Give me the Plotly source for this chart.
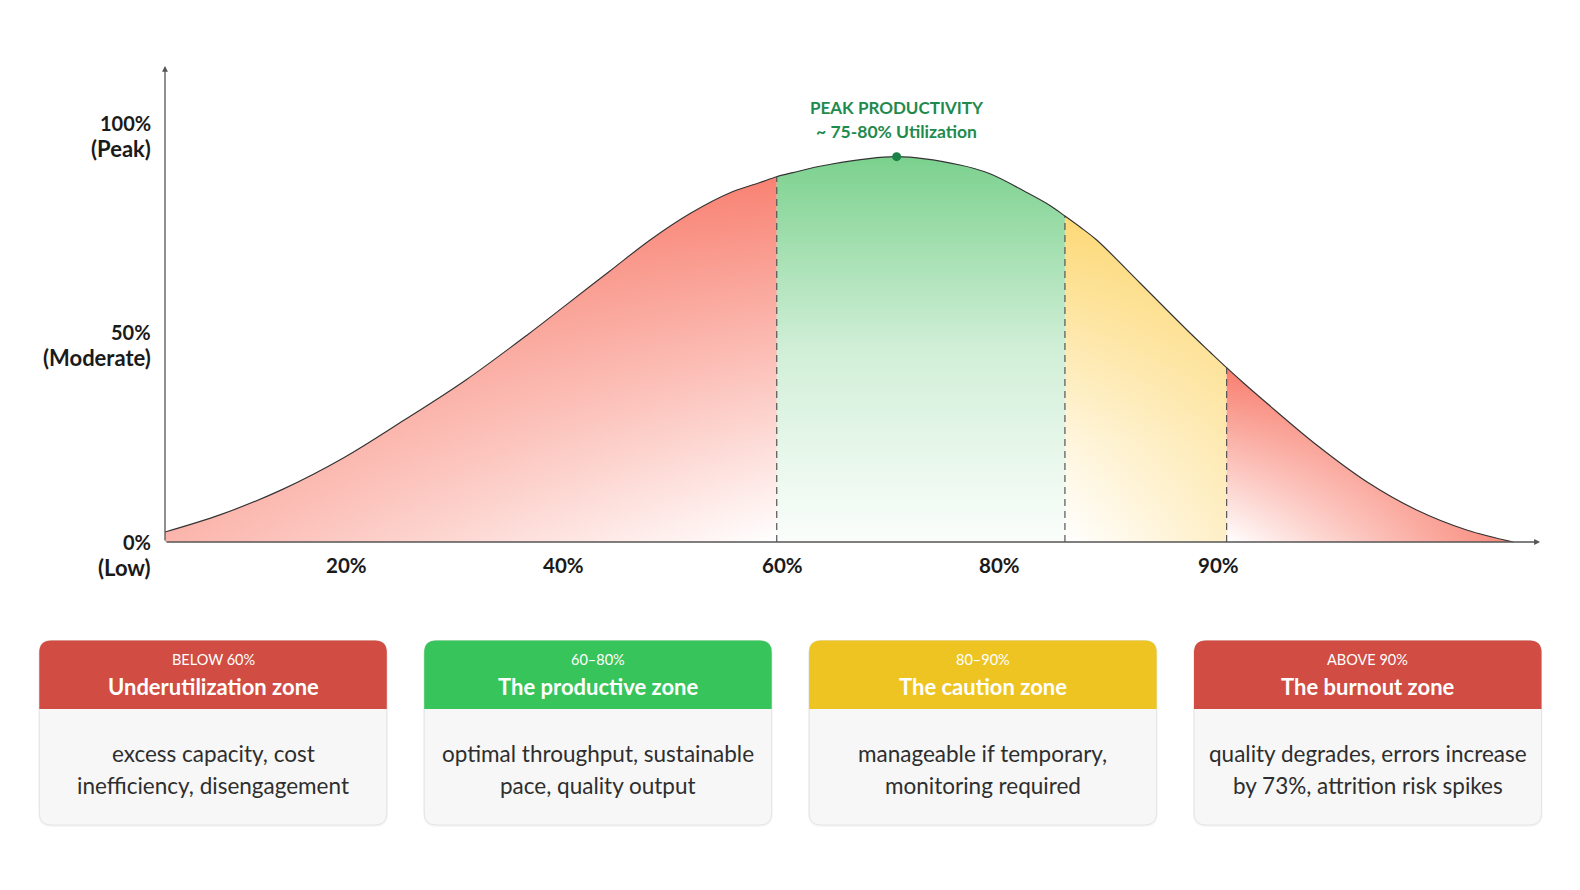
import plotly.graph_objects as go

# ---------------- data ----------------
# curve position along the horizontal axis (axis units 0-100) and productivity (%)
CURVE_X = [0.0, 4.09, 8.55, 13.0, 17.46, 21.91, 26.37, 29.34, 32.31, 35.28, 38.25, 41.22,
           43.27, 44.49, 45.67, 48.12, 53.21, 57.82, 60.0, 62.67, 64.36, 65.45, 66.55, 67.76,
           70.91, 74.55, 76.0, 77.21, 78.4, 80.12, 83.76, 87.4, 91.03, 94.67, 98.06]
CURVE_Y = [2.38, 6.58, 12.54, 20.07, 29.18, 38.69, 49.42, 56.95, 64.48, 72.01, 78.43, 83.43,
           85.7, 87.08, 88.06, 89.87, 91.85, 89.87, 87.77, 83.31, 80.21, 77.71, 75.09, 71.99,
           61.74, 49.82, 45.29, 41.55, 38.02, 33.13, 23.12, 14.37, 7.63, 2.86, 0.0]
ZONE_BOUNDS = [44.49, 65.45, 77.21]          # 60%, 80%, 90% dividers
PEAK = (53.21, 91.85)

X_TICK_POS = [13.2, 29.0, 44.9, 60.7, 76.6]
X_TICK_TEXT = ["20%", "40%", "60%", "80%", "90%"]
Y_TICK_VAL = [100, 50, 0]
Y_TICK_TEXT = ["100%", "50%", "0%"]
Y_TICK_SUB = ["(Peak)", "(Moderate)", "(Low)"]

CARD_RANGE = ["BELOW 60%", "60–80%", "80–90%", "ABOVE 90%"]
CARD_TITLE = ["Underutilization zone", "The productive zone", "The caution zone", "The burnout zone"]
CARD_LINE1 = ["excess capacity, cost", "optimal throughput, sustainable",
              "manageable if temporary,", "quality degrades, errors increase"]
CARD_LINE2 = ["inefficiency, disengagement", "pace, quality output",
              "monitoring required", "by 73%, attrition risk spikes"]
CARD_COLOR = ["#d14c42", "#37c55b", "#eec422", "#d14c42"]

# ---------------- layout constants ----------------
W, H = 1580, 890
FONT = "Lato"
PX_LEFT, PX_RIGHT, PX_BASE = 165, 1540, 542
PX_PER_Y = 4.195


def px(x):
    return x / W


def py(y):
    return 1 - y / H


def rgba(c, a):
    return f"rgba({c[0]},{c[1]},{c[2]},{a})"


RED = (247, 108, 90)
GREEN = (100, 201, 122)
YELLOW = (252, 210, 95)

fig = go.Figure()


def zone_idx(lo, hi):
    return [i for i, x in enumerate(CURVE_X) if lo - 1e-9 <= x <= hi + 1e-9]


zones = [
    (zone_idx(CURVE_X[0], ZONE_BOUNDS[0]),
     [[0, rgba(RED, 0.5)], [1, rgba(RED, 0.0)]],
     [[0, rgba(RED, 0.0)], [1, rgba(RED, 0.85)]]),
    (zone_idx(ZONE_BOUNDS[0], ZONE_BOUNDS[1]),
     None,
     [[0, rgba(GREEN, 0.03)], [0.5, rgba(GREEN, 0.3)], [1, rgba(GREEN, 0.85)]]),
    (zone_idx(ZONE_BOUNDS[1], ZONE_BOUNDS[2]),
     [[0, rgba(YELLOW, 0.0)], [1, rgba(YELLOW, 0.35)]],
     [[0, rgba(YELLOW, 0.0)], [0.3, rgba(YELLOW, 0.2)], [1, rgba(YELLOW, 0.85)]]),
    (zone_idx(ZONE_BOUNDS[2], CURVE_X[-1]),
     [[0, rgba(RED, 0.0)], [1, rgba(RED, 0.8)]],
     [[0, rgba(RED, 0.0)], [1, rgba(RED, 0.88)]]),
]

for idx, hscale, vscale in zones:
    xs = [CURVE_X[i] for i in idx]
    ys = [CURVE_Y[i] for i in idx]
    if hscale is not None:
        fig.add_trace(go.Scatter(
            x=xs, y=ys, mode="lines", line=dict(width=0, shape="spline", smoothing=1),
            fill="tozeroy", fillgradient=dict(type="horizontal", colorscale=hscale),
            hoverinfo="skip", showlegend=False))
    fig.add_trace(go.Scatter(
        x=xs, y=ys, mode="lines", line=dict(width=0, shape="spline", smoothing=1),
        fill="tozeroy", fillgradient=dict(type="vertical", colorscale=vscale),
        hoverinfo="skip", showlegend=False))

# dashed dividers
for b in ZONE_BOUNDS:
    yv = CURVE_Y[CURVE_X.index(b)]
    fig.add_trace(go.Scatter(
        x=[b, b], y=[0, yv], mode="lines",
        line=dict(color="#555555", width=1.2, dash="7px,5px"),
        hoverinfo="skip", showlegend=False))

# curve outline
fig.add_trace(go.Scatter(
    x=CURVE_X, y=CURVE_Y, mode="lines",
    line=dict(color="#333333", width=1.15, shape="spline", smoothing=1),
    hoverinfo="skip", showlegend=False))

# peak marker
fig.add_trace(go.Scatter(
    x=[PEAK[0]], y=[PEAK[1]], mode="markers",
    marker=dict(color="#1b8147", size=9),
    hoverinfo="skip", showlegend=False))

annotations = []

# axis arrows
annotations.append(dict(
    xref="paper", yref="paper", x=px(PX_LEFT), y=py(66), ax=0, ay=PX_BASE - 66,
    axref="pixel", ayref="pixel", text="", showarrow=True,
    arrowhead=2, arrowsize=0.9, arrowwidth=1.3, arrowcolor="#555555", standoff=0))
annotations.append(dict(
    xref="paper", yref="paper", x=px(PX_RIGHT), y=py(PX_BASE), ax=-(PX_RIGHT - PX_LEFT), ay=0,
    axref="pixel", ayref="pixel", text="", showarrow=True,
    arrowhead=2, arrowsize=0.9, arrowwidth=1.3, arrowcolor="#555555", standoff=0))

# x tick labels
for xv, t in zip(X_TICK_POS, X_TICK_TEXT):
    annotations.append(dict(
        xref="x", yref="y", x=xv, y=0, yshift=-23, text=f"<b>{t}</b>", showarrow=False,
        xanchor="center", yanchor="middle",
        font=dict(family=FONT, size=20.5, color="#1a1a1a")))

# y tick labels
for yv, t, s in zip(Y_TICK_VAL, Y_TICK_TEXT, Y_TICK_SUB):
    annotations.append(dict(
        xref="paper", yref="y", x=px(153), y=yv, text=f"<b>{t}</b>", showarrow=False,
        xanchor="right", yanchor="middle",
        font=dict(family=FONT, size=20, color="#1a1a1a")))
    annotations.append(dict(
        xref="paper", yref="y", x=px(153), y=yv, yshift=-25.5, text=f"<b>{s}</b>",
        showarrow=False, xanchor="right", yanchor="middle",
        font=dict(family=FONT, size=22, color="#1a1a1a")))

# peak annotation
annotations.append(dict(
    xref="x", yref="y", x=PEAK[0], y=PEAK[1], yshift=49.5, text="<b>PEAK PRODUCTIVITY</b>",
    showarrow=False, xanchor="center", yanchor="middle",
    font=dict(family=FONT, size=17, color="#1f8a4d")))
annotations.append(dict(
    xref="x", yref="y", x=PEAK[0], y=PEAK[1], yshift=25.5, text="<b>~ 75-80% Utilization</b>",
    showarrow=False, xanchor="center", yanchor="middle",
    font=dict(family=FONT, size=17.5, color="#1f8a4d")))

# ---------------- cards ----------------
shapes = []
CARD_W, CARD_GAP = 347.5, 37.4
CARD_X0 = 39.3
CARD_TOP, CARD_HDR, CARD_BOT = 640.5, 709.0, 825.0
R = 12


def rpath(x0, y0, x1, y1, r, bottom_round=True):
    p = [f"M{px(x0 + r)},{py(y0)}", f"L{px(x1 - r)},{py(y0)}",
         f"Q{px(x1)},{py(y0)} {px(x1)},{py(y0 + r)}"]
    if bottom_round:
        p += [f"L{px(x1)},{py(y1 - r)}", f"Q{px(x1)},{py(y1)} {px(x1 - r)},{py(y1)}",
              f"L{px(x0 + r)},{py(y1)}", f"Q{px(x0)},{py(y1)} {px(x0)},{py(y1 - r)}"]
    else:
        p += [f"L{px(x1)},{py(y1)}", f"L{px(x0)},{py(y1)}"]
    p += [f"L{px(x0)},{py(y0 + r)}", f"Q{px(x0)},{py(y0)} {px(x0 + r)},{py(y0)}", "Z"]
    return " ".join(p)


for i in range(4):
    x0 = CARD_X0 + i * (CARD_W + CARD_GAP)
    x1 = x0 + CARD_W
    cx = (x0 + x1) / 2
    shapes.append(dict(type="path", xref="paper", yref="paper",
                       path=rpath(x0 - 1, CARD_TOP, x1 + 1, CARD_BOT + 2, R + 1),
                       fillcolor="rgba(0,0,0,0.035)", line=dict(width=0), layer="below"))
    shapes.append(dict(type="path", xref="paper", yref="paper",
                       path=rpath(x0, CARD_TOP, x1, CARD_BOT, R),
                       fillcolor="#f7f7f7", line=dict(color="#e4e4e4", width=1), layer="below"))
    shapes.append(dict(type="path", xref="paper", yref="paper",
                       path=rpath(x0, CARD_TOP, x1, CARD_HDR, R, bottom_round=False),
                       fillcolor=CARD_COLOR[i], line=dict(width=0), layer="below"))
    annotations.append(dict(
        xref="paper", yref="paper", x=px(cx), y=py(659.5), text=CARD_RANGE[i], showarrow=False,
        xanchor="center", yanchor="middle", font=dict(family=FONT, size=14.5, color="#ffffff")))
    annotations.append(dict(
        xref="paper", yref="paper", x=px(cx), y=py(686), text=f"<b>{CARD_TITLE[i]}</b>",
        showarrow=False, xanchor="center", yanchor="middle",
        font=dict(family=FONT, size=22, color="#ffffff")))
    annotations.append(dict(
        xref="paper", yref="paper", x=px(cx), y=py(753), text=CARD_LINE1[i], showarrow=False,
        xanchor="center", yanchor="middle", font=dict(family=FONT, size=22.5, color="#2e2e2e")))
    annotations.append(dict(
        xref="paper", yref="paper", x=px(cx), y=py(785), text=CARD_LINE2[i], showarrow=False,
        xanchor="center", yanchor="middle", font=dict(family=FONT, size=22.5, color="#2e2e2e")))

fig.update_layout(
    width=W, height=H, margin=dict(l=0, r=0, t=0, b=0),
    paper_bgcolor="#ffffff", plot_bgcolor="rgba(0,0,0,0)",
    showlegend=False, annotations=annotations, shapes=shapes,
    font=dict(family=FONT),
    xaxis=dict(domain=[px(PX_LEFT), px(PX_RIGHT)], range=[0, 100], visible=False, fixedrange=True),
    yaxis=dict(domain=[py(PX_BASE), 1], range=[0, PX_BASE / PX_PER_Y], visible=False, fixedrange=True),
)

fig.write_html("out.html", config={"displayModeBar": False})
